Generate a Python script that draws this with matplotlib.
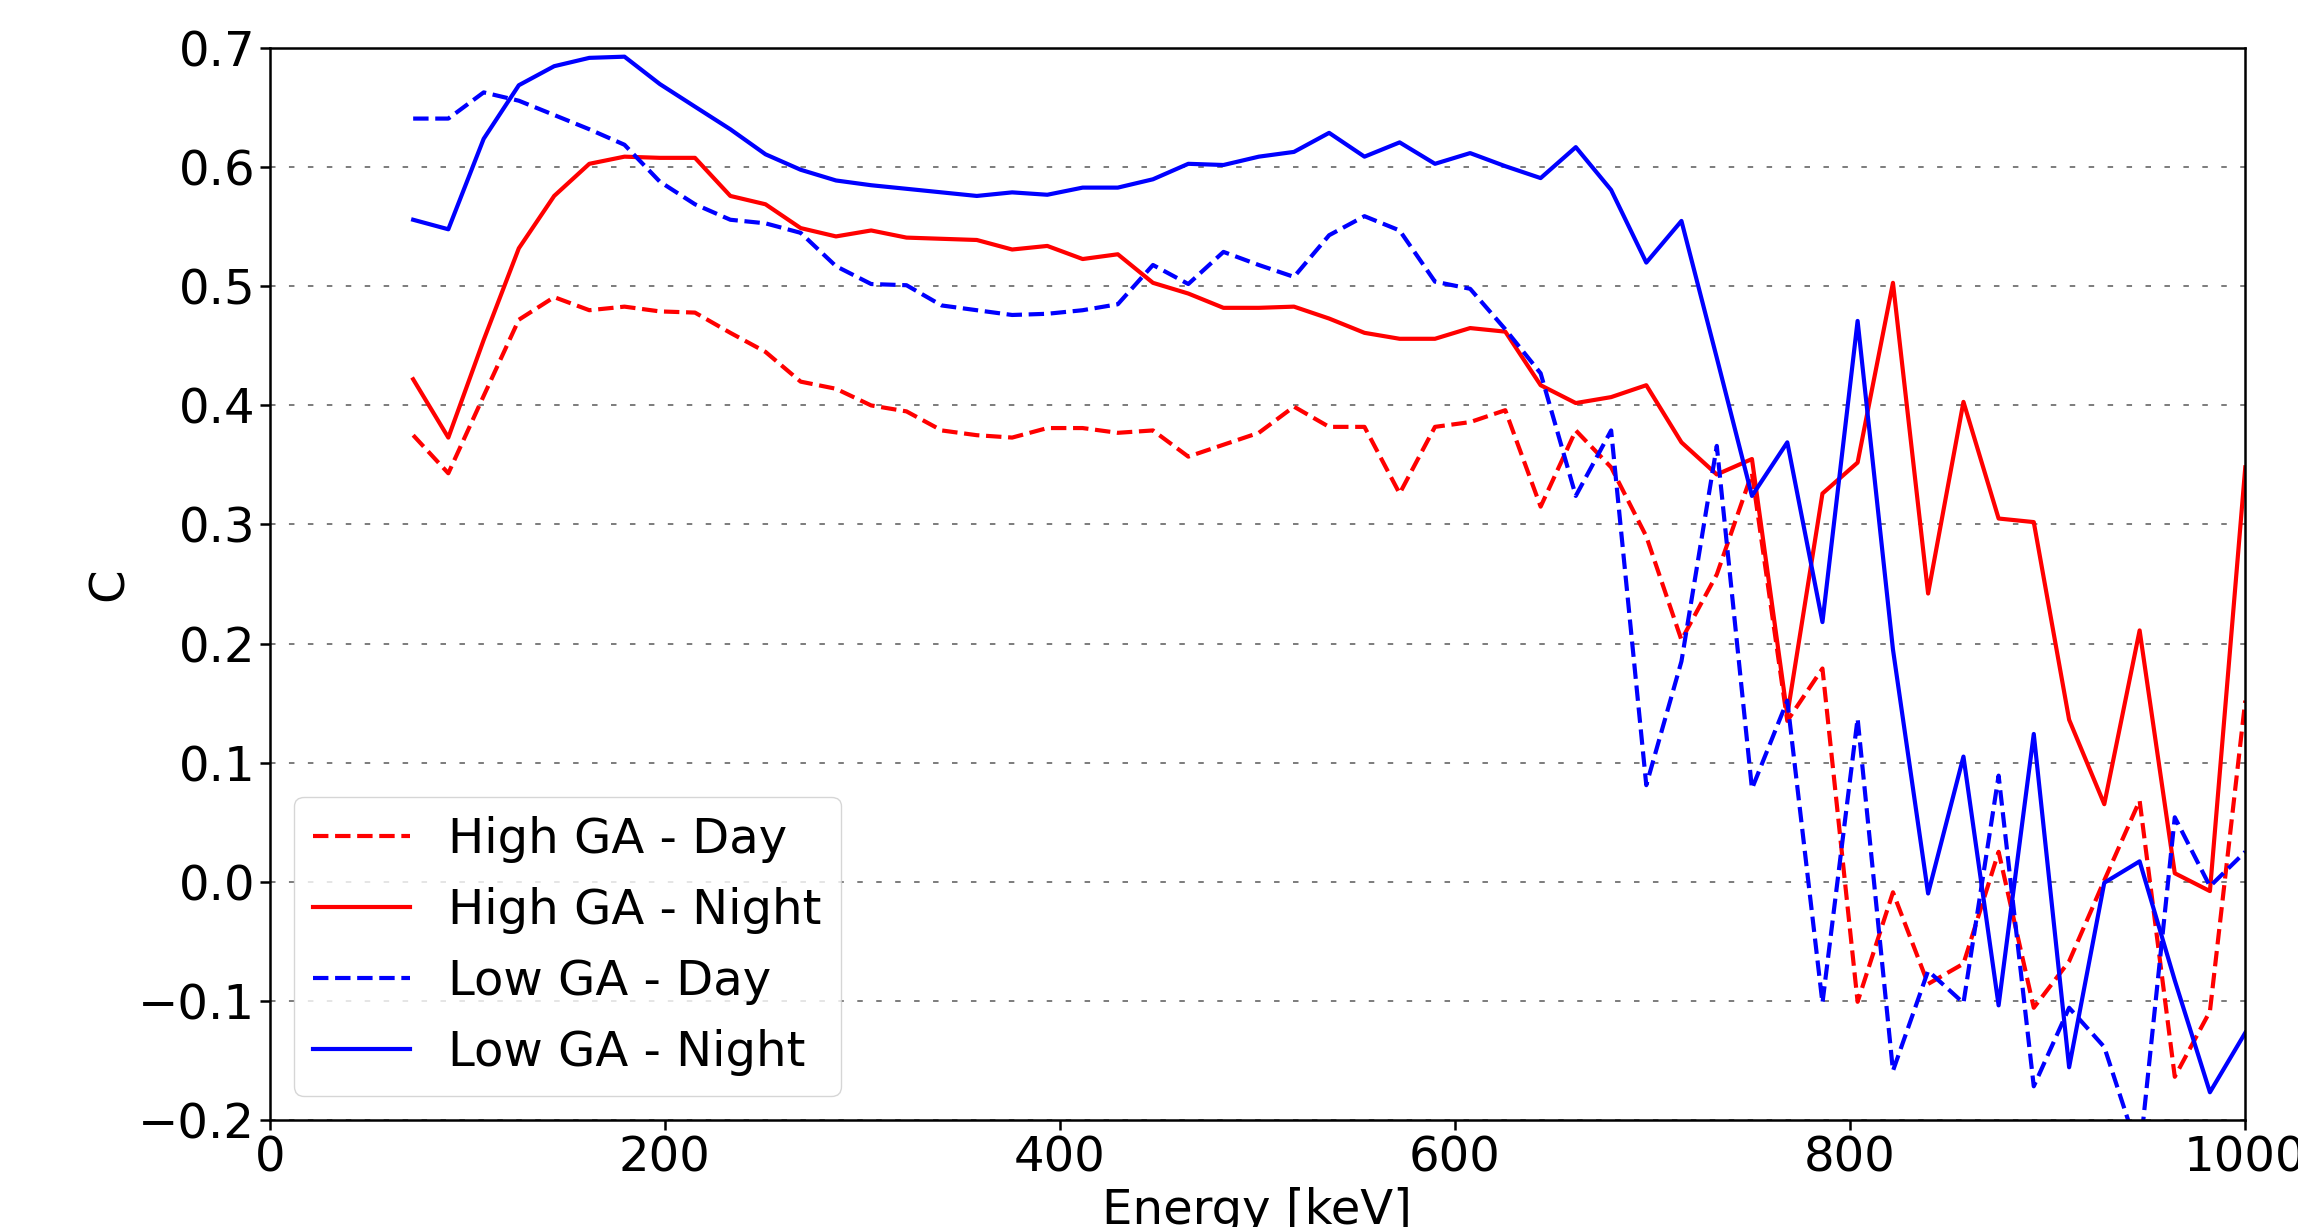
import matplotlib
matplotlib.use("Agg")
import matplotlib.pyplot as plt

energy = [72.6, 90.4, 108.3, 126.1, 144.0, 161.8, 179.6, 197.5, 215.3, 233.2,
          251.0, 268.8, 286.7, 304.5, 322.4, 340.2, 358.0, 375.9, 393.7, 411.6,
          429.4, 447.2, 465.1, 482.9, 500.8, 518.6, 536.4, 554.3, 572.1, 590.0,
          607.8, 625.6, 643.5, 661.3, 679.2, 697.0, 714.8, 732.7, 750.5, 768.4,
          786.2, 804.0, 821.9, 839.7, 857.6, 875.4, 893.2, 911.1, 928.9, 946.8,
          964.6, 982.4, 1000.3]

high_day = [0.375, 0.343, 0.408, 0.472, 0.491, 0.480, 0.483, 0.479, 0.478, 0.461,
            0.445, 0.420, 0.414, 0.400, 0.395, 0.379, 0.375, 0.373, 0.381, 0.381,
            0.377, 0.379, 0.357, 0.367, 0.377, 0.399, 0.382, 0.382, 0.326, 0.382,
            0.386, 0.396, 0.315, 0.379, 0.348, 0.290, 0.203, 0.258, 0.343, 0.135,
            0.179, -0.101, -0.009, -0.086, -0.069, 0.025, -0.106, -0.067, 0.001, 0.068,
            -0.164, -0.109, 0.152]

high_night = [0.422, 0.373, 0.455, 0.532, 0.576, 0.603, 0.609, 0.608, 0.608, 0.576,
              0.569, 0.549, 0.542, 0.547, 0.541, 0.540, 0.539, 0.531, 0.534, 0.523,
              0.527, 0.503, 0.494, 0.482, 0.482, 0.483, 0.473, 0.461, 0.456, 0.456,
              0.465, 0.462, 0.417, 0.402, 0.407, 0.417, 0.369, 0.342, 0.355, 0.140,
              0.326, 0.352, 0.503, 0.242, 0.403, 0.305, 0.302, 0.136, 0.065, 0.211,
              0.007, -0.008, 0.348]

low_day = [0.641, 0.641, 0.663, 0.656, 0.644, 0.632, 0.619, 0.588, 0.569, 0.556,
           0.553, 0.545, 0.517, 0.502, 0.501, 0.484, 0.480, 0.476, 0.477, 0.480,
           0.485, 0.518, 0.502, 0.529, 0.518, 0.508, 0.543, 0.559, 0.547, 0.504,
           0.498, 0.464, 0.427, 0.324, 0.379, 0.081, 0.185, 0.366, 0.078, 0.152,
           -0.102, 0.137, -0.159, -0.075, -0.102, 0.089, -0.172, -0.106, -0.139, -0.230,
           0.054, -0.004, 0.025]

low_night = [0.556, 0.548, 0.624, 0.669, 0.685, 0.692, 0.693, 0.670, 0.651, 0.632,
             0.611, 0.598, 0.589, 0.585, 0.582, 0.579, 0.576, 0.579, 0.577, 0.583,
             0.583, 0.590, 0.603, 0.602, 0.609, 0.613, 0.629, 0.609, 0.621, 0.603,
             0.612, 0.601, 0.591, 0.617, 0.581, 0.520, 0.555, 0.440, 0.324, 0.369,
             0.218, 0.471, 0.195, -0.010, 0.105, -0.104, 0.124, -0.156, -0.001, 0.017,
             -0.083, -0.177, -0.127]

labels = ["High GA - Day", "High GA - Night", "Low GA - Day", "Low GA - Night"]
yticks = [-0.2, -0.1, 0.0, 0.1, 0.2, 0.3, 0.4, 0.5, 0.6, 0.7]
xticks = [0, 200, 400, 600, 800, 1000]

fs = 34.7
plt.rcParams["font.family"] = ["DejaVu Sans"]
plt.rcParams["font.size"] = fs

fig = plt.figure(figsize=(22.98, 12.27), dpi=100)
ax = fig.add_axes([0.1174, 0.0875, 0.8594, 0.8731])

lw = 3.0
ax.plot(energy, high_day, color="red", linestyle="--", linewidth=lw, label=labels[0])
ax.plot(energy, high_night, color="red", linestyle="-", linewidth=lw, label=labels[1])
ax.plot(energy, low_day, color="blue", linestyle="--", linewidth=lw, label=labels[2])
ax.plot(energy, low_night, color="blue", linestyle="-", linewidth=lw, label=labels[3])

ax.set_xlim(0, 1000)
ax.set_ylim(-0.2, 0.7)
ax.set_xticks(xticks)
ax.set_yticks(yticks)
ax.yaxis.grid(True, linestyle=(0, (3.6, 8.8)), color="0.35", linewidth=1.1)
ax.set_axisbelow(True)
for s in ax.spines.values():
    s.set_linewidth(1.8)
ax.tick_params(labelsize=fs, width=1.8, length=7)

ax.set_xlabel("Energy [keV]", fontsize=fs)
ax.set_ylabel("C", fontsize=fs)

ax.legend(loc="lower left", fontsize=fs)

fig.savefig("out.png", dpi=100)
